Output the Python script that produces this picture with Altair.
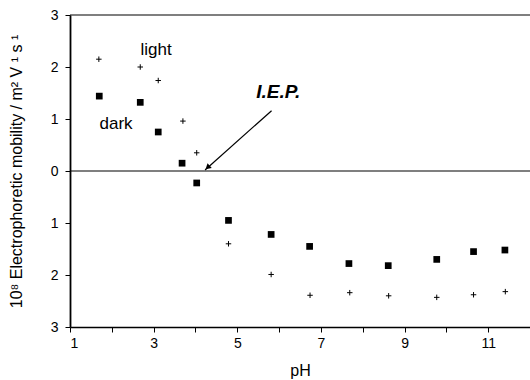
import altair as alt
import pandas as pd

# ---- data ----
ph_dark = [1.70, 2.68, 3.11, 3.68, 4.03, 4.79, 5.81, 6.73, 7.67, 8.61, 9.77, 10.65, 11.40]
mob_dark = [1.44, 1.32, 0.75, 0.15, -0.23, -0.95, -1.22, -1.45, -1.78, -1.82, -1.70, -1.55, -1.52]

ph_light = [1.69, 2.68, 3.11, 3.70, 4.03, 4.79, 5.81, 6.74, 7.69, 8.62, 9.77, 10.65, 11.41]
mob_light = [2.15, 2.00, 1.74, 0.96, 0.35, -1.40, -1.99, -2.39, -2.34, -2.40, -2.43, -2.38, -2.32]

ref_lines = [3, 0]

label_text = ["light", "dark"]
label_ph = [3.06, 2.10]
label_mob = [2.33, 0.90]

iep_text = ["I.E.P."]
iep_ph = [5.98]
iep_mob = [1.52]

arrow_ph = [5.82, 4.23]
arrow_mob = [1.16, 0.02]
head_ph = [4.29]
head_mob = [0.07]

x_ticks = list(range(1, 13))
y_ticks = [-3, -2, -1, 0, 1, 2, 3]

FONT = "Liberation Sans"

dark_df = pd.DataFrame({"pH": ph_dark, "mob": mob_dark})
light_df = pd.DataFrame({"pH": ph_light, "mob": mob_light})
lines_df = pd.DataFrame({"mob": ref_lines})
labels_df = pd.DataFrame({"pH": label_ph, "mob": label_mob, "t": label_text})
iep_df = pd.DataFrame({"pH": iep_ph, "mob": iep_mob, "t": iep_text})
arrow_df = pd.DataFrame({"pH": arrow_ph, "mob": arrow_mob, "o": [0, 1]})
head_df = pd.DataFrame({"pH": head_ph, "mob": head_mob})

xscale = alt.Scale(domain=[1, 12], nice=False, zero=False)
yscale = alt.Scale(domain=[-3, 3], nice=False)

xaxis = alt.Axis(
    values=x_ticks,
    labelExpr="datum.value % 2 == 1 ? datum.value : ''",
    grid=False, tickSize=5, tickColor="black", domainColor="black", domainWidth=1.5,
    labelFont=FONT, labelFontSize=14, labelColor="black", labelPadding=4,
    titleFont=FONT, titleFontSize=16, titleFontWeight="normal", titleColor="black",
    titlePadding=12,
)
yaxis = alt.Axis(
    values=y_ticks,
    labelExpr="abs(datum.value)",
    grid=False, tickSize=5, tickColor="black", domainColor="black", domainWidth=1.8,
    labelFont=FONT, labelFontSize=14, labelColor="black", labelPadding=7,
    titleFont=FONT, titleFontSize=16, titleFontWeight="normal", titleColor="black",
    titlePadding=26,
)

X = alt.X("pH:Q", scale=xscale, axis=xaxis, title="pH")
Y = alt.Y("mob:Q", scale=yscale, axis=yaxis,
          title="10⁸ Electrophoretic mobility / m² V ¹ s ¹")

rules = alt.Chart(lines_df).mark_rule(color="black", strokeWidth=1.2).encode(
    y=alt.Y("mob:Q", scale=yscale))

dark = alt.Chart(dark_df).mark_point(
    shape="square", filled=True, size=45, color="black", opacity=1
).encode(x=X, y=Y)

light = alt.Chart(light_df).mark_point(
    shape="M-1,0H1M0,-1V1", filled=False, size=30, color="black",
    strokeWidth=1, opacity=1
).encode(x=alt.X("pH:Q", scale=xscale), y=alt.Y("mob:Q", scale=yscale))

labels = alt.Chart(labels_df).mark_text(
    font=FONT, fontSize=17, color="black"
).encode(x=alt.X("pH:Q", scale=xscale), y=alt.Y("mob:Q", scale=yscale), text="t:N")

iep = alt.Chart(iep_df).mark_text(
    font=FONT, fontSize=19, fontWeight="bold", fontStyle="italic", color="black"
).encode(x=alt.X("pH:Q", scale=xscale), y=alt.Y("mob:Q", scale=yscale), text="t:N")

arrow = alt.Chart(arrow_df).mark_line(color="black", strokeWidth=1.2).encode(
    x=alt.X("pH:Q", scale=xscale), y=alt.Y("mob:Q", scale=yscale), order="o:Q")

head = alt.Chart(head_df).mark_point(
    shape="triangle-up", filled=True, size=40, color="black", angle=228.7, opacity=1
).encode(x=alt.X("pH:Q", scale=xscale), y=alt.Y("mob:Q", scale=yscale))

chart = alt.layer(rules, dark, light, labels, iep, arrow, head).properties(
    width=460, height=312,
    autosize=alt.AutoSizeParams(type="none"),
    padding={"left": 70, "top": 15, "right": 0, "bottom": 53},
    background="white",
).configure_view(stroke=None)

chart.save("out.html", embed_options={"renderer": "svg", "actions": False})
